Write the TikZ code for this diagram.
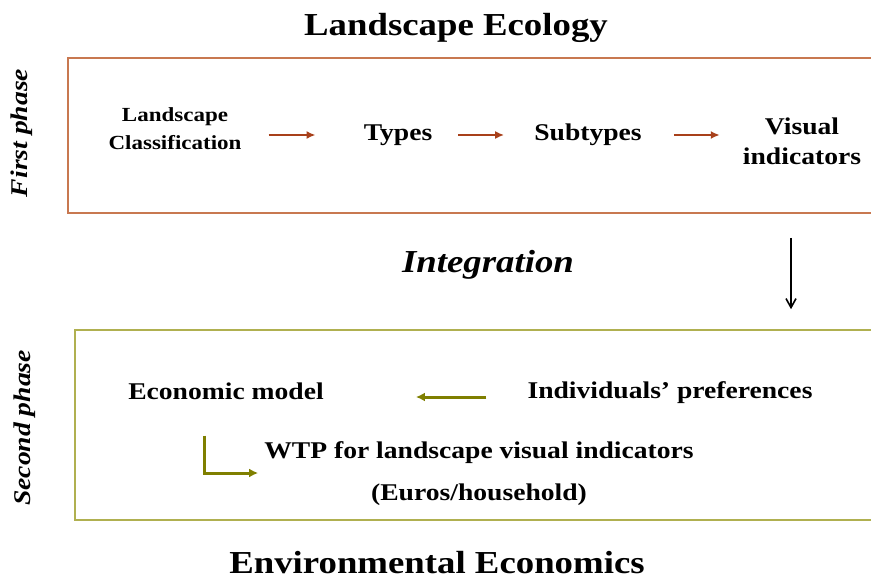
\documentclass[tikz,border=0pt]{standalone}
\usepackage{fontspec}
\setmainfont{Liberation Serif}[FakeStretch=1.15]
\usepackage{tikz}
\usetikzlibrary{positioning, arrows.meta}
\definecolor{rustline}{RGB}{200,120,80}
\definecolor{rustarrow}{RGB}{168,64,26}
\definecolor{oliveline}{RGB}{176,176,80}
\definecolor{olivearrow}{RGB}{127,127,0}

\begin{document}
\begin{tikzpicture}[x=1pt, y=-1pt]
	\tikzset{
		txt/.style = {font=\bfseries\fontsize{24}{30}\selectfont, align=center, inner sep=0pt},
		small/.style = {font=\bfseries\fontsize{20}{28}\selectfont, align=center, inner sep=0pt},
		heading/.style = {font=\bfseries\fontsize{32}{38}\selectfont, inner sep=0pt},
		phase/.style = {font=\bfseries\itshape\fontsize{24}{30}\selectfont, rotate=90, inner sep=0pt},
		phasebox/.style = {rectangle, draw, line width=1.6pt},
		redarrow/.style = {rustarrow, line width=2.8pt, -{Latex[length=9pt, width=8pt]}},
		grnarrow/.style = {olivearrow, line width=3pt, -{Latex[length=9pt, width=9pt]}}
	}
	\useasboundingbox (0,0) rectangle (871,583);

	% first phase
	\node[heading] (eco) at (456,28) {Landscape Ecology};
	\node[phasebox, draw=rustline, minimum width=812pt, minimum height=155pt] (first) at (474,135.5) {};
	\node[phase] (ph1) at (22,133) {First phase};
	\node[small] (lc) at (175,129) {Landscape\\Classification};
	\node[txt] (types) at (398,135) {Types};
	\node[txt] (sub) at (588,135) {Subtypes};
	\node[txt] (vis) at (802,141) {Visual\\indicators};
	\draw[redarrow, shorten <=27pt, shorten >=48pt] (lc.east |- types.west) -- (types.west);
	\draw[redarrow, shorten <=26pt, shorten >=30pt] (types.east) -- (sub.west);
	\draw[redarrow, shorten <=32pt, shorten >=23pt] (sub.east) -- (sub.east -| vis.west);

	% integration
	\node[heading, font=\bfseries\itshape\fontsize{32}{38}\selectfont] (integ) at (488,265) {Integration};
	\coordinate (drop) at (791,0);

	% second phase
	\node[phasebox, draw=oliveline, minimum width=805pt, minimum height=190pt] (second) at (477.5,425) {};
	\draw[black, line width=1.6pt, -{Straight Barb[length=9pt, width=10pt]}, shorten <=24pt, shorten >=20pt]
		(first.south -| drop) -- (second.north -| drop);
	\node[phase] (ph2) at (25,428) {Second phase};
	\node[txt] (econ) at (226,391) {Economic model};
	\node[txt] (pref) at (670,393) {Individuals’ preferences};
	\node[txt, font=\bfseries\fontsize{24}{42}\selectfont] (wtp) at (479,474) {WTP for landscape visual indicators\\(Euros/household)};
	\coordinate (bend) at (204,0);
	\draw[grnarrow, shorten <=41pt, shorten >=92pt] ([yshift=-4pt]pref.west) -- ([yshift=-4pt]pref.west -| econ.east);
	\draw[grnarrow, shorten <=36pt, shorten >=6pt] (econ.south -| bend) |- ([yshift=1pt]wtp.west);

	\node[heading] (env) at (437,563) {Environmental Economics};
\end{tikzpicture}
\end{document}
